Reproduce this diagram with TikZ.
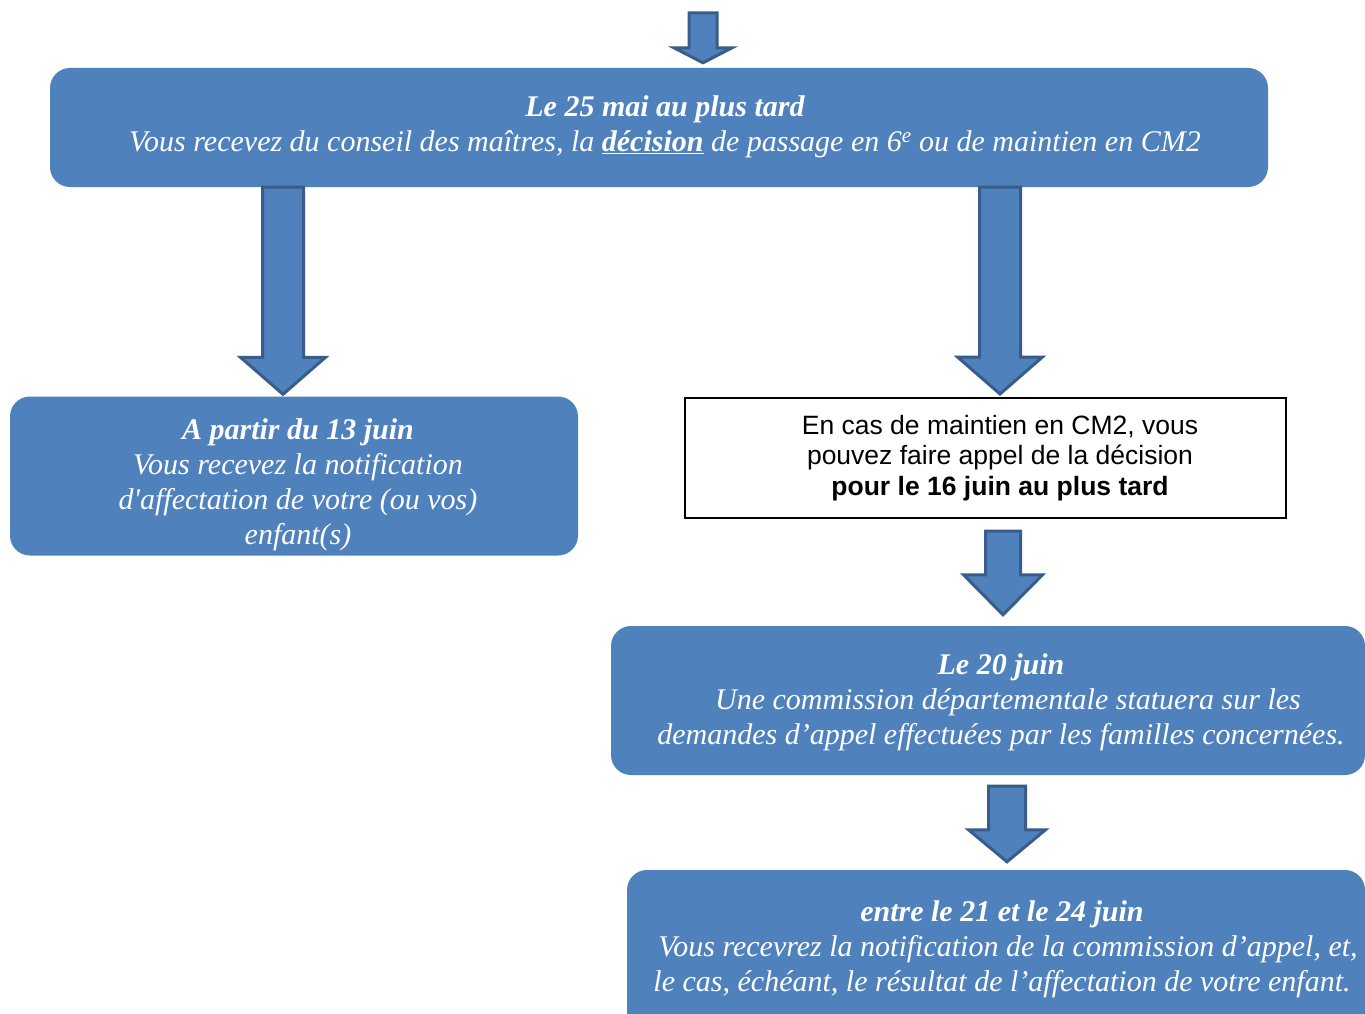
\documentclass[tikz,border=0pt]{standalone}
\usepackage{fontspec}
\setmainfont{Liberation Serif}
\newfontfamily\arialfont{Liberation Sans}
\usetikzlibrary{positioning, calc}
\definecolor{BoxBlue}{HTML}{4F81BD}
\definecolor{ArrowEdge}{HTML}{385D8A}
\tikzset{
  bluebox/.style={fill=BoxBlue, rounded corners=20pt, inner sep=0pt},
  bluetext/.style={text=white, align=center, inner sep=0pt,
                   font=\itshape\fontsize{30}{35}\selectfont},
  whitebox/.style={draw=black, line width=2pt, fill=white, inner sep=0pt},
  whitetext/.style={align=center, inner sep=0pt,
                    font=\arialfont\fontsize{26.5}{30.5}\selectfont},
  blockarrow/.style={fill=BoxBlue, draw=ArrowEdge, line width=3pt, line join=miter},
}
% block arrow: #1 top, #2 tip, #3 shaft half width, #4 head half width, #5 head length
\newcommand{\blocarrow}[5]{%
  \draw[blockarrow] let \p1=#1, \p2=#2 in
    (\x2-#3,\y1) -- (\x2+#3,\y1) -- (\x2+#3,\y2+#5) -- (\x2+#4,\y2+#5)
    -- (\x2,\y2) -- (\x2-#4,\y2+#5) -- (\x2-#3,\y2+#5) -- cycle;}

\begin{document}
\begin{tikzpicture}[x=1pt, y=-1pt]
    \useasboundingbox[fill=white] (0,0) rectangle (1365,1014);

    % Boxes
    \node[bluebox, minimum width=1218pt, minimum height=119pt] (mai) at (659,127.5) {};
    \node[bluebox, minimum width=568pt, minimum height=159pt] (juin13) at (294,476) {};
    \node[whitebox, minimum width=601pt, minimum height=120pt] (appel) at (985.5,458) {};
    \node[bluebox, minimum width=754pt, minimum height=149pt] (juin20) at (988,700.5) {};
    \node[bluebox, minimum width=738pt, minimum height=170pt] (juin24) at (996,955) {};

    % Texts
    \node[bluetext] (maitxt) at ($(mai.center)+(6,-1)$) {%
        \textbf{Le 25 mai au plus tard}\\
        Vous recevez du conseil des maîtres, la \underline{\textbf{décision}} de passage en 6\textsuperscript{e} ou de maintien en CM2};
    \node[bluetext] (juin13txt) at ($(juin13.center)+(4,9)$) {%
        \textbf{A partir du 13 juin}\\
        Vous recevez la notification\\
        d\textquotesingle affectation de votre (ou vos)\\
        enfant(s)};
    \node[whitetext] (appeltxt) at ($(appel.center)+(14.5,0)$) {%
        En cas de maintien en CM2, vous\\
        pouvez faire appel de la décision\\
        \textbf{pour le 16 juin au plus tard}};
    \node[bluetext] (juin20txt) at ($(juin20.center)+(13,2)$) {%
        \textbf{Le 20 juin}\\
        \hspace*{14pt}Une commission départementale statuera sur les\\
        demandes d’appel effectuées par les familles concernées.};
    \node[bluetext] (juin24txt) at ($(juin24.center)+(6,-6)$) {%
        \textbf{entre le 21 et le 24 juin}\\
        \hspace*{12pt}Vous recevrez la notification de la commission d’appel, et,\\
        le cas, échéant, le résultat de l’affectation de votre enfant.};

    % Arrows
    \coordinate (entree) at (703,13);
    \blocarrow{(entree)}{($(mai.north)+(44,-5)$)}{14pt}{29pt}{15pt}
    \blocarrow{(mai.south)}{($(juin13.north)+(-11,-2)$)}{20.5pt}{42.5pt}{37pt}
    \blocarrow{(mai.south)}{($(appel.north)+(14.5,-3)$)}{20.5pt}{42.5pt}{37pt}
    \blocarrow{($(appel.south)+(0,12)$)}{($(juin20.north)+(15,-11)$)}{17.5pt}{39.5pt}{40pt}
    \blocarrow{($(juin20.south)+(0,11)$)}{($(juin24.north)+(11,-8)$)}{18.5pt}{38.5pt}{32pt}
\end{tikzpicture}
\end{document}
